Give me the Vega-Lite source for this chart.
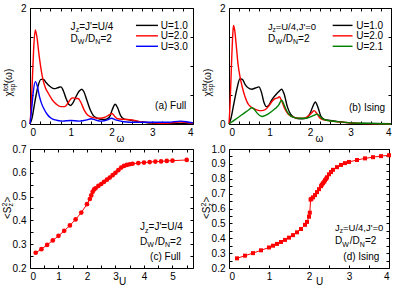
{
  "$schema": "https://vega.github.io/schema/vega-lite/v6.json",
  "background": "white",
  "padding": {"left": 0, "top": 2, "right": 0, "bottom": 0},
  "config": {
    "font": "Liberation Sans",
    "view": {"stroke": "#000", "strokeWidth": 1},
    "axis": {"domain": false, "grid": false, "tickColor": "#000", "tickSize": -3, "tickWidth": 1,
      "labelFont": "Liberation Sans", "labelFontSize": 10, "labelColor": "#000",
      "titleFont": "Liberation Sans", "titleFontSize": 10, "titleFontWeight": "normal", "titleColor": "#000"},
    "axisX": {"labelPadding": 6.5},
    "axisY": {"labelPadding": 7},
    "text": {"font": "Liberation Sans", "color": "#000"}
  },
  "datasets": {
    "aLines": [
      {"w":0,"v":0,"s":"U=1.0"},{"w":0.05,"v":0.1,"s":"U=1.0"},{"w":0.1,"v":0.3,"s":"U=1.0"},{"w":0.15,"v":0.5,"s":"U=1.0"},{"w":0.2,"v":0.66,"s":"U=1.0"},{"w":0.27,"v":0.77,"s":"U=1.0"},{"w":0.33,"v":0.77,"s":"U=1.0"},{"w":0.4,"v":0.71,"s":"U=1.0"},{"w":0.47,"v":0.66,"s":"U=1.0"},{"w":0.55,"v":0.62,"s":"U=1.0"},{"w":0.62,"v":0.61,"s":"U=1.0"},{"w":0.7,"v":0.63,"s":"U=1.0"},{"w":0.76,"v":0.64,"s":"U=1.0"},{"w":0.82,"v":0.57,"s":"U=1.0"},{"w":0.88,"v":0.45,"s":"U=1.0"},{"w":0.95,"v":0.34,"s":"U=1.0"},{"w":1.0,"v":0.32,"s":"U=1.0"},{"w":1.05,"v":0.36,"s":"U=1.0"},{"w":1.12,"v":0.46,"s":"U=1.0"},{"w":1.2,"v":0.56,"s":"U=1.0"},{"w":1.27,"v":0.6,"s":"U=1.0"},{"w":1.32,"v":0.56,"s":"U=1.0"},{"w":1.4,"v":0.4,"s":"U=1.0"},{"w":1.48,"v":0.24,"s":"U=1.0"},{"w":1.55,"v":0.15,"s":"U=1.0"},{"w":1.65,"v":0.1,"s":"U=1.0"},{"w":1.75,"v":0.08,"s":"U=1.0"},{"w":1.85,"v":0.08,"s":"U=1.0"},{"w":1.95,"v":0.12,"s":"U=1.0"},{"w":2.02,"v":0.25,"s":"U=1.0"},{"w":2.09,"v":0.34,"s":"U=1.0"},{"w":2.15,"v":0.28,"s":"U=1.0"},{"w":2.22,"v":0.15,"s":"U=1.0"},{"w":2.3,"v":0.09,"s":"U=1.0"},{"w":2.45,"v":0.07,"s":"U=1.0"},{"w":2.6,"v":0.05,"s":"U=1.0"},{"w":2.8,"v":0.03,"s":"U=1.0"},{"w":3.0,"v":0.015,"s":"U=1.0"},{"w":3.5,"v":0.01,"s":"U=1.0"},{"w":4.0,"v":0.0,"s":"U=1.0"},
      {"w":0,"v":0,"s":"U=2.0"},{"w":0.03,"v":0.3,"s":"U=2.0"},{"w":0.06,"v":0.8,"s":"U=2.0"},{"w":0.09,"v":1.3,"s":"U=2.0"},{"w":0.13,"v":1.62,"s":"U=2.0"},{"w":0.17,"v":1.5,"s":"U=2.0"},{"w":0.22,"v":1.2,"s":"U=2.0"},{"w":0.27,"v":0.95,"s":"U=2.0"},{"w":0.32,"v":0.76,"s":"U=2.0"},{"w":0.38,"v":0.62,"s":"U=2.0"},{"w":0.45,"v":0.53,"s":"U=2.0"},{"w":0.5,"v":0.47,"s":"U=2.0"},{"w":0.55,"v":0.41,"s":"U=2.0"},{"w":0.65,"v":0.34,"s":"U=2.0"},{"w":0.75,"v":0.3,"s":"U=2.0"},{"w":0.85,"v":0.3,"s":"U=2.0"},{"w":0.93,"v":0.36,"s":"U=2.0"},{"w":1.0,"v":0.43,"s":"U=2.0"},{"w":1.05,"v":0.45,"s":"U=2.0"},{"w":1.12,"v":0.44,"s":"U=2.0"},{"w":1.18,"v":0.44,"s":"U=2.0"},{"w":1.25,"v":0.37,"s":"U=2.0"},{"w":1.33,"v":0.24,"s":"U=2.0"},{"w":1.42,"v":0.15,"s":"U=2.0"},{"w":1.55,"v":0.11,"s":"U=2.0"},{"w":1.7,"v":0.1,"s":"U=2.0"},{"w":1.85,"v":0.12,"s":"U=2.0"},{"w":1.95,"v":0.16,"s":"U=2.0"},{"w":2.01,"v":0.18,"s":"U=2.0"},{"w":2.08,"v":0.13,"s":"U=2.0"},{"w":2.15,"v":0.09,"s":"U=2.0"},{"w":2.3,"v":0.08,"s":"U=2.0"},{"w":2.5,"v":0.07,"s":"U=2.0"},{"w":2.7,"v":0.04,"s":"U=2.0"},{"w":3.0,"v":0.02,"s":"U=2.0"},{"w":3.3,"v":0.01,"s":"U=2.0"},{"w":3.6,"v":0.03,"s":"U=2.0"},{"w":3.7,"v":0.035,"s":"U=2.0"},{"w":3.8,"v":0.03,"s":"U=2.0"},{"w":4.0,"v":0.01,"s":"U=2.0"},
      {"w":0,"v":0,"s":"U=3.0"},{"w":0.04,"v":0.25,"s":"U=3.0"},{"w":0.08,"v":0.55,"s":"U=3.0"},{"w":0.13,"v":0.73,"s":"U=3.0"},{"w":0.18,"v":0.65,"s":"U=3.0"},{"w":0.23,"v":0.48,"s":"U=3.0"},{"w":0.28,"v":0.36,"s":"U=3.0"},{"w":0.35,"v":0.25,"s":"U=3.0"},{"w":0.43,"v":0.16,"s":"U=3.0"},{"w":0.52,"v":0.1,"s":"U=3.0"},{"w":0.62,"v":0.07,"s":"U=3.0"},{"w":0.8,"v":0.05,"s":"U=3.0"},{"w":1.0,"v":0.06,"s":"U=3.0"},{"w":1.2,"v":0.05,"s":"U=3.0"},{"w":1.4,"v":0.07,"s":"U=3.0"},{"w":1.5,"v":0.09,"s":"U=3.0"},{"w":1.6,"v":0.07,"s":"U=3.0"},{"w":1.75,"v":0.05,"s":"U=3.0"},{"w":1.9,"v":0.07,"s":"U=3.0"},{"w":2.0,"v":0.1,"s":"U=3.0"},{"w":2.1,"v":0.07,"s":"U=3.0"},{"w":2.3,"v":0.04,"s":"U=3.0"},{"w":2.6,"v":0.03,"s":"U=3.0"},{"w":3.0,"v":0.03,"s":"U=3.0"},{"w":3.4,"v":0.03,"s":"U=3.0"},{"w":3.7,"v":0.05,"s":"U=3.0"},{"w":3.9,"v":0.03,"s":"U=3.0"},{"w":4.0,"v":0.02,"s":"U=3.0"}
    ],
    "bLines": [
      {"w":0,"v":0,"s":"U=1.0"},{"w":0.05,"v":0.1,"s":"U=1.0"},{"w":0.12,"v":0.35,"s":"U=1.0"},{"w":0.2,"v":0.62,"s":"U=1.0"},{"w":0.27,"v":0.78,"s":"U=1.0"},{"w":0.33,"v":0.77,"s":"U=1.0"},{"w":0.4,"v":0.68,"s":"U=1.0"},{"w":0.48,"v":0.62,"s":"U=1.0"},{"w":0.56,"v":0.6,"s":"U=1.0"},{"w":0.65,"v":0.62,"s":"U=1.0"},{"w":0.74,"v":0.64,"s":"U=1.0"},{"w":0.8,"v":0.55,"s":"U=1.0"},{"w":0.86,"v":0.38,"s":"U=1.0"},{"w":0.92,"v":0.3,"s":"U=1.0"},{"w":0.98,"v":0.32,"s":"U=1.0"},{"w":1.06,"v":0.42,"s":"U=1.0"},{"w":1.15,"v":0.5,"s":"U=1.0"},{"w":1.23,"v":0.56,"s":"U=1.0"},{"w":1.3,"v":0.6,"s":"U=1.0"},{"w":1.36,"v":0.52,"s":"U=1.0"},{"w":1.44,"v":0.3,"s":"U=1.0"},{"w":1.52,"v":0.17,"s":"U=1.0"},{"w":1.62,"v":0.11,"s":"U=1.0"},{"w":1.75,"v":0.09,"s":"U=1.0"},{"w":1.9,"v":0.1,"s":"U=1.0"},{"w":2.0,"v":0.18,"s":"U=1.0"},{"w":2.08,"v":0.32,"s":"U=1.0"},{"w":2.13,"v":0.38,"s":"U=1.0"},{"w":2.2,"v":0.28,"s":"U=1.0"},{"w":2.27,"v":0.13,"s":"U=1.0"},{"w":2.35,"v":0.08,"s":"U=1.0"},{"w":2.5,"v":0.06,"s":"U=1.0"},{"w":2.7,"v":0.04,"s":"U=1.0"},{"w":3.0,"v":0.02,"s":"U=1.0"},{"w":3.5,"v":0.01,"s":"U=1.0"},{"w":4.0,"v":0.005,"s":"U=1.0"},
      {"w":0,"v":0,"s":"U=2.0"},{"w":0.03,"v":0.4,"s":"U=2.0"},{"w":0.06,"v":1.0,"s":"U=2.0"},{"w":0.09,"v":1.5,"s":"U=2.0"},{"w":0.11,"v":1.7,"s":"U=2.0"},{"w":0.14,"v":1.62,"s":"U=2.0"},{"w":0.18,"v":1.35,"s":"U=2.0"},{"w":0.22,"v":1.05,"s":"U=2.0"},{"w":0.27,"v":0.82,"s":"U=2.0"},{"w":0.33,"v":0.63,"s":"U=2.0"},{"w":0.4,"v":0.46,"s":"U=2.0"},{"w":0.46,"v":0.36,"s":"U=2.0"},{"w":0.53,"v":0.3,"s":"U=2.0"},{"w":0.6,"v":0.27,"s":"U=2.0"},{"w":0.7,"v":0.24,"s":"U=2.0"},{"w":0.8,"v":0.23,"s":"U=2.0"},{"w":0.9,"v":0.25,"s":"U=2.0"},{"w":0.97,"v":0.3,"s":"U=2.0"},{"w":1.05,"v":0.38,"s":"U=2.0"},{"w":1.12,"v":0.43,"s":"U=2.0"},{"w":1.2,"v":0.45,"s":"U=2.0"},{"w":1.24,"v":0.47,"s":"U=2.0"},{"w":1.3,"v":0.4,"s":"U=2.0"},{"w":1.36,"v":0.29,"s":"U=2.0"},{"w":1.45,"v":0.18,"s":"U=2.0"},{"w":1.55,"v":0.13,"s":"U=2.0"},{"w":1.7,"v":0.1,"s":"U=2.0"},{"w":1.85,"v":0.1,"s":"U=2.0"},{"w":1.98,"v":0.15,"s":"U=2.0"},{"w":2.05,"v":0.2,"s":"U=2.0"},{"w":2.1,"v":0.23,"s":"U=2.0"},{"w":2.16,"v":0.19,"s":"U=2.0"},{"w":2.25,"v":0.1,"s":"U=2.0"},{"w":2.35,"v":0.07,"s":"U=2.0"},{"w":2.55,"v":0.05,"s":"U=2.0"},{"w":2.8,"v":0.03,"s":"U=2.0"},{"w":3.2,"v":0.01,"s":"U=2.0"},{"w":4.0,"v":0.0,"s":"U=2.0"},
      {"w":0,"v":0,"s":"U=2.1"},{"w":0.1,"v":0.05,"s":"U=2.1"},{"w":0.2,"v":0.1,"s":"U=2.1"},{"w":0.3,"v":0.15,"s":"U=2.1"},{"w":0.4,"v":0.2,"s":"U=2.1"},{"w":0.5,"v":0.25,"s":"U=2.1"},{"w":0.56,"v":0.28,"s":"U=2.1"},{"w":0.6,"v":0.27,"s":"U=2.1"},{"w":0.68,"v":0.2,"s":"U=2.1"},{"w":0.75,"v":0.15,"s":"U=2.1"},{"w":0.82,"v":0.13,"s":"U=2.1"},{"w":0.9,"v":0.15,"s":"U=2.1"},{"w":0.98,"v":0.18,"s":"U=2.1"},{"w":1.06,"v":0.22,"s":"U=2.1"},{"w":1.15,"v":0.27,"s":"U=2.1"},{"w":1.22,"v":0.32,"s":"U=2.1"},{"w":1.3,"v":0.41,"s":"U=2.1"},{"w":1.36,"v":0.33,"s":"U=2.1"},{"w":1.43,"v":0.22,"s":"U=2.1"},{"w":1.52,"v":0.14,"s":"U=2.1"},{"w":1.62,"v":0.11,"s":"U=2.1"},{"w":1.75,"v":0.1,"s":"U=2.1"},{"w":1.9,"v":0.1,"s":"U=2.1"},{"w":2.0,"v":0.12,"s":"U=2.1"},{"w":2.1,"v":0.15,"s":"U=2.1"},{"w":2.17,"v":0.17,"s":"U=2.1"},{"w":2.25,"v":0.13,"s":"U=2.1"},{"w":2.33,"v":0.08,"s":"U=2.1"},{"w":2.45,"v":0.06,"s":"U=2.1"},{"w":2.65,"v":0.04,"s":"U=2.1"},{"w":3.0,"v":0.02,"s":"U=2.1"},{"w":3.5,"v":0.01,"s":"U=2.1"},{"w":4.0,"v":0.0,"s":"U=2.1"}
    ],
    "cPts": [
      {"u":0.2,"v":0.264},{"u":0.4,"v":0.279},{"u":0.6,"v":0.297},{"u":0.8,"v":0.316},{"u":1.0,"v":0.335},{"u":1.2,"v":0.356},{"u":1.4,"v":0.379},{"u":1.6,"v":0.404},{"u":1.8,"v":0.433},{"u":2.0,"v":0.468},{"u":2.1,"v":0.49},{"u":2.15,"v":0.505},{"u":2.2,"v":0.52},{"u":2.25,"v":0.53},{"u":2.3,"v":0.535},{"u":2.4,"v":0.545},{"u":2.5,"v":0.553},{"u":2.6,"v":0.562},{"u":2.7,"v":0.571},{"u":2.8,"v":0.58},{"u":2.9,"v":0.59},{"u":3.0,"v":0.6},{"u":3.1,"v":0.611},{"u":3.2,"v":0.622},{"u":3.3,"v":0.629},{"u":3.4,"v":0.633},{"u":3.5,"v":0.636},{"u":3.6,"v":0.638},{"u":3.8,"v":0.641},{"u":4.0,"v":0.643},{"u":4.2,"v":0.645},{"u":4.4,"v":0.647},{"u":4.6,"v":0.648},{"u":4.8,"v":0.65},{"u":5.0,"v":0.651},{"u":5.5,"v":0.654}
    ],
    "dPts": [
      {"u":0.2,"v":0.265},{"u":0.4,"v":0.283},{"u":0.6,"v":0.3},{"u":0.8,"v":0.319},{"u":1.0,"v":0.338},{"u":1.1,"v":0.35},{"u":1.2,"v":0.362},{"u":1.3,"v":0.375},{"u":1.4,"v":0.389},{"u":1.5,"v":0.404},{"u":1.6,"v":0.421},{"u":1.7,"v":0.44},{"u":1.8,"v":0.462},{"u":1.9,"v":0.49},{"u":1.95,"v":0.51},{"u":2.0,"v":0.545},{"u":2.02,"v":0.572},{"u":2.04,"v":0.66},{"u":2.06,"v":0.665},{"u":2.1,"v":0.675},{"u":2.15,"v":0.69},{"u":2.2,"v":0.71},{"u":2.25,"v":0.73},{"u":2.3,"v":0.75},{"u":2.32,"v":0.76},{"u":2.35,"v":0.77},{"u":2.38,"v":0.78},{"u":2.4,"v":0.79},{"u":2.43,"v":0.8},{"u":2.45,"v":0.81},{"u":2.5,"v":0.83},{"u":2.55,"v":0.845},{"u":2.6,"v":0.86},{"u":2.7,"v":0.878},{"u":2.8,"v":0.893},{"u":2.9,"v":0.905},{"u":3.0,"v":0.913},{"u":3.2,"v":0.926},{"u":3.4,"v":0.937},{"u":3.6,"v":0.945},{"u":3.8,"v":0.952},{"u":4.0,"v":0.958}
    ],
    "aLeg": [{"x1":2.6,"x2":3.14,"y":1.7,"s":"U=1.0"},{"x1":2.6,"x2":3.14,"y":1.52,"s":"U=2.0"},{"x1":2.6,"x2":3.14,"y":1.34,"s":"U=3.0"}],
    "bLeg": [{"x1":2.56,"x2":3.05,"y":1.7,"s":"U=1.0"},{"x1":2.56,"x2":3.05,"y":1.52,"s":"U=2.0"},{"x1":2.56,"x2":3.05,"y":1.34,"s":"U=2.1"}],
    "aTxt": [
      {"x":0.993,"y":1.629,"t":"J","r":"m"},{"x":1.121,"y":1.586,"t":"z","r":"s"},{"x":1.207,"y":1.629,"t":"=J'=U/4","r":"m"},
      {"x":0.993,"y":1.422,"t":"D","r":"m"},{"x":1.17,"y":1.379,"t":"W","r":"s"},{"x":1.356,"y":1.422,"t":"/D","r":"m"},{"x":1.602,"y":1.379,"t":"N","r":"s"},{"x":1.727,"y":1.422,"t":"=2","r":"m"},
      {"x":3.21,"y":1.64,"t":"U=1.0","r":"m"},{"x":3.21,"y":1.46,"t":"U=2.0","r":"m"},{"x":3.21,"y":1.278,"t":"U=3.0","r":"m"},
      {"x":3.07,"y":0.266,"t":"(a) Full","r":"m"}
    ],
    "bTxt": [
      {"x":0.96,"y":1.629,"t":"J","r":"n"},{"x":1.073,"y":1.59,"t":"z","r":"ns"},{"x":1.153,"y":1.629,"t":"=U/4,J'=0","r":"n"},
      {"x":0.96,"y":1.422,"t":"D","r":"m"},{"x":1.1457,"y":1.379,"t":"W","r":"s"},{"x":1.333,"y":1.422,"t":"/D","r":"m"},{"x":1.58,"y":1.379,"t":"N","r":"s"},{"x":1.706,"y":1.422,"t":"=2","r":"m"},
      {"x":3.14,"y":1.64,"t":"U=1.0","r":"m"},{"x":3.14,"y":1.46,"t":"U=2.0","r":"m"},{"x":3.14,"y":1.278,"t":"U=2.1","r":"m"},
      {"x":2.96,"y":0.231,"t":"(b) Ising","r":"m"}
    ],
    "cTxt": [
      {"x":3.863,"y":0.3576,"t":"J","r":"m"},{"x":4.039,"y":0.347,"t":"z","r":"s"},{"x":4.162,"y":0.3576,"t":"=J'=U/4","r":"m"},
      {"x":3.863,"y":0.2987,"t":"D","r":"m"},{"x":4.116,"y":0.2882,"t":"W","r":"s"},{"x":4.384,"y":0.2987,"t":"/D","r":"m"},{"x":4.736,"y":0.2882,"t":"N","r":"s"},{"x":4.915,"y":0.2987,"t":"=2","r":"m"},
      {"x":4.215,"y":0.2353,"t":"(c) Full","r":"m"}
    ],
    "dTxt": [
      {"x":2.65,"y":0.452,"t":"J","r":"n"},{"x":2.769,"y":0.438,"t":"z","r":"ns"},{"x":2.85,"y":0.452,"t":"=U/4,J'=0","r":"n"},
      {"x":2.65,"y":0.358,"t":"D","r":"m"},{"x":2.83,"y":0.341,"t":"W","r":"s"},{"x":3.02,"y":0.358,"t":"/D","r":"m"},{"x":3.27,"y":0.341,"t":"N","r":"s"},{"x":3.3975,"y":0.358,"t":"=2","r":"m"},
      {"x":2.8575,"y":0.2565,"t":"(d) Ising","r":"m"}
    ],
    "aRot": [
      {"x":-0.442,"y":0.474,"t":"χ","r":"m"},{"x":-0.38,"y":0.569,"t":"sp","r":"s"},{"x":-0.54,"y":0.569,"t":"tot","r":"s"},{"x":-0.442,"y":0.703,"t":"(ω)","r":"m"}
    ],
    "bRot": [
      {"x":-0.444,"y":0.474,"t":"χ","r":"m"},{"x":-0.383,"y":0.569,"t":"sp","r":"s"},{"x":-0.543,"y":0.569,"t":"tot","r":"s"},{"x":-0.444,"y":0.703,"t":"(ω)","r":"m"}
    ],
    "cRot": [
      {"x":-0.669,"y":0.4059,"t":"<","r":"m"},{"x":-0.669,"y":0.4303,"t":"S","r":"m"},{"x":-0.581,"y":0.4584,"t":"z","r":"s"},{"x":-0.81,"y":0.4584,"t":"2","r":"s"},{"x":-0.669,"y":0.4748,"t":">","r":"m"}
    ],
    "dRot": [
      {"x":-0.475,"y":0.5294,"t":"<","r":"m"},{"x":-0.475,"y":0.5684,"t":"S","r":"m"},{"x":-0.4125,"y":0.6134,"t":"z","r":"s"},{"x":-0.575,"y":0.6134,"t":"2","r":"s"},{"x":-0.475,"y":0.6397,"t":">","r":"m"}
    ]
  },
  "columns": 2,
  "spacing": {"row": 25, "column": 36},
  "bounds": "flush",
  "resolve": {"scale": {"x": "independent", "y": "independent", "color": "independent"}},
  "concat": [
    {
      "width": 163, "height": 116,
      "layer": [
        {"data": {"name": "aLines"}, "mark": {"type": "line", "interpolate": "monotone", "strokeWidth": 1.4},
          "encoding": {
            "x": {"field": "w", "type": "quantitative", "scale": {"domain": [0, 4], "nice": false},
              "axis": {"orient": "bottom", "values": [0,0.25,0.5,0.75,1,1.25,1.5,1.75,2,2.25,2.5,2.75,3,3.25,3.5,3.75,4], "labelExpr": "datum.value % 1 == 0 ? format(datum.value, 'd') : ''", "title": "ω", "titleX": 90, "titleY": 14, "titleBaseline": "middle", "titleAlign": "center"}},
            "y": {"field": "v", "type": "quantitative", "scale": {"domain": [0, 2], "nice": false},
              "axis": {"orient": "left", "values": [0,0.5,1,1.5,2], "labelExpr": "datum.value == 0 || datum.value == 2 ? format(datum.value, 'd') : ''", "title": null}},
            "color": {"field": "s", "type": "nominal", "scale": {"domain": ["U=1.0","U=2.0","U=3.0"], "range": ["#000000","#ff0000","#0000ff"]}, "legend": null}
          }},
        {"data": {"name": "aLeg"}, "mark": {"type": "rule", "strokeWidth": 1.4},
          "encoding": {
            "x": {"field": "x1", "type": "quantitative", "axis": {"orient": "top", "values": [0,0.25,0.5,0.75,1,1.25,1.5,1.75,2,2.25,2.5,2.75,3,3.25,3.5,3.75,4], "labels": false, "title": null}},
            "x2": {"field": "x2"},
            "y": {"field": "y", "type": "quantitative", "axis": {"orient": "right", "values": [0,0.5,1,1.5,2], "labels": false, "title": null}},
            "color": {"field": "s", "type": "nominal", "legend": null}
          }},
        {"data": {"name": "aTxt"}, "transform": [{"filter": "datum.r == 'm'"}], "mark": {"type": "text", "align": "left", "baseline": "alphabetic", "fontSize": 10},
          "encoding": {"x": {"field": "x", "type": "quantitative", "axis": null}, "y": {"field": "y", "type": "quantitative", "axis": null}, "text": {"field": "t"}}},
        {"data": {"name": "aTxt"}, "transform": [{"filter": "datum.r == 's'"}], "mark": {"type": "text", "align": "left", "baseline": "alphabetic", "fontSize": 7},
          "encoding": {"x": {"field": "x", "type": "quantitative", "axis": null}, "y": {"field": "y", "type": "quantitative", "axis": null}, "text": {"field": "t"}}},
        {"data": {"name": "aRot"}, "transform": [{"filter": "datum.r == 'm'"}], "mark": {"type": "text", "align": "left", "baseline": "alphabetic", "angle": 270, "fontSize": 10},
          "encoding": {"x": {"field": "x", "type": "quantitative", "axis": null}, "y": {"field": "y", "type": "quantitative", "axis": null}, "text": {"field": "t"}}},
        {"data": {"name": "aRot"}, "transform": [{"filter": "datum.r == 's'"}], "mark": {"type": "text", "align": "left", "baseline": "alphabetic", "angle": 270, "fontSize": 7},
          "encoding": {"x": {"field": "x", "type": "quantitative", "axis": null}, "y": {"field": "y", "type": "quantitative", "axis": null}, "text": {"field": "t"}}}
      ]
    },
    {
      "width": 162, "height": 116,
      "layer": [
        {"data": {"name": "bLines"}, "mark": {"type": "line", "interpolate": "monotone", "strokeWidth": 1.4},
          "encoding": {
            "x": {"field": "w", "type": "quantitative", "scale": {"domain": [0, 4], "nice": false},
              "axis": {"orient": "bottom", "values": [0,0.25,0.5,0.75,1,1.25,1.5,1.75,2,2.25,2.5,2.75,3,3.25,3.5,3.75,4], "labelExpr": "datum.value % 1 == 0 ? format(datum.value, 'd') : ''", "title": "ω", "titleX": 90, "titleY": 14, "titleBaseline": "middle", "titleAlign": "center"}},
            "y": {"field": "v", "type": "quantitative", "scale": {"domain": [0, 2], "nice": false},
              "axis": {"orient": "left", "values": [0,0.5,1,1.5,2], "labelExpr": "datum.value == 0 || datum.value == 2 ? format(datum.value, 'd') : ''", "title": null}},
            "color": {"field": "s", "type": "nominal", "scale": {"domain": ["U=1.0","U=2.0","U=2.1"], "range": ["#000000","#ff0000","#008000"]}, "legend": null}
          }},
        {"data": {"name": "bLeg"}, "mark": {"type": "rule", "strokeWidth": 1.4},
          "encoding": {
            "x": {"field": "x1", "type": "quantitative", "axis": {"orient": "top", "values": [0,0.25,0.5,0.75,1,1.25,1.5,1.75,2,2.25,2.5,2.75,3,3.25,3.5,3.75,4], "labels": false, "title": null}},
            "x2": {"field": "x2"},
            "y": {"field": "y", "type": "quantitative", "axis": {"orient": "right", "values": [0,0.5,1,1.5,2], "labels": false, "title": null}},
            "color": {"field": "s", "type": "nominal", "legend": null}
          }},
        {"data": {"name": "bTxt"}, "transform": [{"filter": "datum.r == 'm'"}], "mark": {"type": "text", "align": "left", "baseline": "alphabetic", "fontSize": 10},
          "encoding": {"x": {"field": "x", "type": "quantitative", "axis": null}, "y": {"field": "y", "type": "quantitative", "axis": null}, "text": {"field": "t"}}},
        {"data": {"name": "bTxt"}, "transform": [{"filter": "datum.r == 's'"}], "mark": {"type": "text", "align": "left", "baseline": "alphabetic", "fontSize": 7},
          "encoding": {"x": {"field": "x", "type": "quantitative", "axis": null}, "y": {"field": "y", "type": "quantitative", "axis": null}, "text": {"field": "t"}}},
        {"data": {"name": "bTxt"}, "transform": [{"filter": "datum.r == 'n'"}], "mark": {"type": "text", "align": "left", "baseline": "alphabetic", "fontSize": 9.5},
          "encoding": {"x": {"field": "x", "type": "quantitative", "axis": null}, "y": {"field": "y", "type": "quantitative", "axis": null}, "text": {"field": "t"}}},
        {"data": {"name": "bTxt"}, "transform": [{"filter": "datum.r == 'ns'"}], "mark": {"type": "text", "align": "left", "baseline": "alphabetic", "fontSize": 6.5},
          "encoding": {"x": {"field": "x", "type": "quantitative", "axis": null}, "y": {"field": "y", "type": "quantitative", "axis": null}, "text": {"field": "t"}}},
        {"data": {"name": "bRot"}, "transform": [{"filter": "datum.r == 'm'"}], "mark": {"type": "text", "align": "left", "baseline": "alphabetic", "angle": 270, "fontSize": 10},
          "encoding": {"x": {"field": "x", "type": "quantitative", "axis": null}, "y": {"field": "y", "type": "quantitative", "axis": null}, "text": {"field": "t"}}},
        {"data": {"name": "bRot"}, "transform": [{"filter": "datum.r == 's'"}], "mark": {"type": "text", "align": "left", "baseline": "alphabetic", "angle": 270, "fontSize": 7},
          "encoding": {"x": {"field": "x", "type": "quantitative", "axis": null}, "y": {"field": "y", "type": "quantitative", "axis": null}, "text": {"field": "t"}}}
      ]
    },
    {
      "width": 163, "height": 119,
      "layer": [
        {"data": {"name": "cPts"}, "mark": {"type": "line", "color": "#ff0000", "strokeWidth": 1},
          "encoding": {
            "x": {"field": "u", "type": "quantitative", "scale": {"domain": [0, 5.72], "nice": false},
              "axis": {"orient": "bottom", "values": [0,0.5,1,1.5,2,2.5,3,3.5,4,4.5,5,5.5], "labelExpr": "datum.value % 1 == 0 ? format(datum.value, 'd') : ''", "title": "U", "titleX": 92, "titleY": 13, "titleBaseline": "middle", "titleAlign": "center"}},
            "y": {"field": "v", "type": "quantitative", "scale": {"domain": [0.2, 0.7], "nice": false},
              "axis": {"orient": "left", "values": [0.2,0.25,0.3,0.35,0.4,0.45,0.5,0.55,0.6,0.65,0.7], "labelExpr": "round(datum.value*100) % 10 == 0 ? format(datum.value, '.1f') : ''", "title": null}}
          }},
        {"data": {"name": "cPts"}, "mark": {"type": "point", "shape": "circle", "filled": true, "color": "#ff0000", "opacity": 1, "size": 22},
          "encoding": {
            "x": {"field": "u", "type": "quantitative", "axis": {"orient": "top", "values": [0,0.5,1,1.5,2,2.5,3,3.5,4,4.5,5,5.5], "labels": false, "title": null}},
            "y": {"field": "v", "type": "quantitative", "axis": {"orient": "right", "values": [0.2,0.25,0.3,0.35,0.4,0.45,0.5,0.55,0.6,0.65,0.7], "labels": false, "title": null}}
          }},
        {"data": {"name": "cTxt"}, "transform": [{"filter": "datum.r == 'm'"}], "mark": {"type": "text", "align": "left", "baseline": "alphabetic", "fontSize": 10},
          "encoding": {"x": {"field": "x", "type": "quantitative", "axis": null}, "y": {"field": "y", "type": "quantitative", "axis": null}, "text": {"field": "t"}}},
        {"data": {"name": "cTxt"}, "transform": [{"filter": "datum.r == 's'"}], "mark": {"type": "text", "align": "left", "baseline": "alphabetic", "fontSize": 7},
          "encoding": {"x": {"field": "x", "type": "quantitative", "axis": null}, "y": {"field": "y", "type": "quantitative", "axis": null}, "text": {"field": "t"}}},
        {"data": {"name": "cRot"}, "transform": [{"filter": "datum.r == 'm'"}], "mark": {"type": "text", "align": "left", "baseline": "alphabetic", "angle": 270, "fontSize": 10},
          "encoding": {"x": {"field": "x", "type": "quantitative", "axis": null}, "y": {"field": "y", "type": "quantitative", "axis": null}, "text": {"field": "t"}}},
        {"data": {"name": "cRot"}, "transform": [{"filter": "datum.r == 's'"}], "mark": {"type": "text", "align": "left", "baseline": "alphabetic", "angle": 270, "fontSize": 7},
          "encoding": {"x": {"field": "x", "type": "quantitative", "axis": null}, "y": {"field": "y", "type": "quantitative", "axis": null}, "text": {"field": "t"}}}
      ]
    },
    {
      "width": 160, "height": 119,
      "layer": [
        {"data": {"name": "dPts"}, "mark": {"type": "line", "color": "#ff0000", "strokeWidth": 1},
          "encoding": {
            "x": {"field": "u", "type": "quantitative", "scale": {"domain": [0, 4], "nice": false},
              "axis": {"orient": "bottom", "values": [0,0.5,1,1.5,2,2.5,3,3.5,4], "labelExpr": "datum.value % 1 == 0 ? format(datum.value, 'd') : ''", "title": "U", "titleX": 90, "titleY": 13, "titleBaseline": "middle", "titleAlign": "center"}},
            "y": {"field": "v", "type": "quantitative", "scale": {"domain": [0.2, 1.0], "nice": false},
              "axis": {"orient": "left", "values": [0.2,0.25,0.3,0.35,0.4,0.45,0.5,0.55,0.6,0.65,0.7,0.75,0.8,0.85,0.9,0.95,1.0], "labelExpr": "round(datum.value*100) % 10 == 0 ? format(datum.value, '.1f') : ''", "title": null}}
          }},
        {"data": {"name": "dPts"}, "mark": {"type": "point", "shape": "square", "filled": true, "color": "#ff0000", "opacity": 1, "size": 16},
          "encoding": {
            "x": {"field": "u", "type": "quantitative", "axis": {"orient": "top", "values": [0,0.5,1,1.5,2,2.5,3,3.5,4], "labels": false, "title": null}},
            "y": {"field": "v", "type": "quantitative", "axis": {"orient": "right", "values": [0.2,0.25,0.3,0.35,0.4,0.45,0.5,0.55,0.6,0.65,0.7,0.75,0.8,0.85,0.9,0.95,1.0], "labels": false, "title": null}}
          }},
        {"data": {"name": "dTxt"}, "transform": [{"filter": "datum.r == 'm'"}], "mark": {"type": "text", "align": "left", "baseline": "alphabetic", "fontSize": 10},
          "encoding": {"x": {"field": "x", "type": "quantitative", "axis": null}, "y": {"field": "y", "type": "quantitative", "axis": null}, "text": {"field": "t"}}},
        {"data": {"name": "dTxt"}, "transform": [{"filter": "datum.r == 's'"}], "mark": {"type": "text", "align": "left", "baseline": "alphabetic", "fontSize": 7},
          "encoding": {"x": {"field": "x", "type": "quantitative", "axis": null}, "y": {"field": "y", "type": "quantitative", "axis": null}, "text": {"field": "t"}}},
        {"data": {"name": "dTxt"}, "transform": [{"filter": "datum.r == 'n'"}], "mark": {"type": "text", "align": "left", "baseline": "alphabetic", "fontSize": 9.5},
          "encoding": {"x": {"field": "x", "type": "quantitative", "axis": null}, "y": {"field": "y", "type": "quantitative", "axis": null}, "text": {"field": "t"}}},
        {"data": {"name": "dTxt"}, "transform": [{"filter": "datum.r == 'ns'"}], "mark": {"type": "text", "align": "left", "baseline": "alphabetic", "fontSize": 6.5},
          "encoding": {"x": {"field": "x", "type": "quantitative", "axis": null}, "y": {"field": "y", "type": "quantitative", "axis": null}, "text": {"field": "t"}}},
        {"data": {"name": "dRot"}, "transform": [{"filter": "datum.r == 'm'"}], "mark": {"type": "text", "align": "left", "baseline": "alphabetic", "angle": 270, "fontSize": 10},
          "encoding": {"x": {"field": "x", "type": "quantitative", "axis": null}, "y": {"field": "y", "type": "quantitative", "axis": null}, "text": {"field": "t"}}},
        {"data": {"name": "dRot"}, "transform": [{"filter": "datum.r == 's'"}], "mark": {"type": "text", "align": "left", "baseline": "alphabetic", "angle": 270, "fontSize": 7},
          "encoding": {"x": {"field": "x", "type": "quantitative", "axis": null}, "y": {"field": "y", "type": "quantitative", "axis": null}, "text": {"field": "t"}}}
      ]
    }
  ]
}
